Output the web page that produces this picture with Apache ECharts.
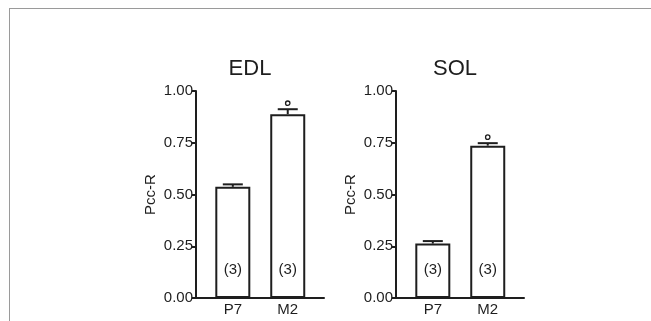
<!DOCTYPE html>
<html>
<head>
<meta charset="utf-8">
<script src="https://cdn.jsdelivr.net/npm/echarts@6/dist/echarts.min.js"></script>
<style>
  html, body { margin: 0; padding: 0; background: #fff; }
  #frame {
    position: absolute; left: 9px; top: 8px; width: 642px; height: 313px;
    border-top: 1px solid #9a9a9a; border-left: 1px solid #9a9a9a;
    box-sizing: border-box;
  }
  #chart { position: absolute; left: 0; top: 0; width: 651px; height: 321px; }
</style>
</head>
<body>
<div id="frame"></div>
<div id="chart"></div>
<script>
var categories = ["P7", "M2"];
var edlMean = [0.537, 0.888];
var edlSem = [0.012, 0.024];
var solMean = [0.263, 0.736];
var solSem = [0.012, 0.012];
var nCounts = [3, 3];
var edlSig = [false, true];
var solSig = [false, true];

var ink = "#1e1e1e";
var fontFam = "Liberation Sans, Arial, sans-serif";

function xAxisFor(gi) {
  return {
    type: "value",
    gridIndex: gi,
    min: -0.67,
    max: 1.66,
    splitLine: { show: false },
    axisTick: { show: false },
    axisLine: { onZero: false, lineStyle: { color: ink, width: 2 } },
    axisLabel: {
      customValues: [0, 1],
      color: ink, fontSize: 15, fontFamily: fontFam, margin: 4,
      formatter: function (v) { return categories[Math.round(v)]; }
    }
  };
}

function yAxisFor(gi) {
  return {
    type: "value",
    gridIndex: gi,
    min: 0,
    max: 1,
    interval: 0.25,
    name: "Pcc-R",
    nameLocation: "middle",
    nameGap: 38,
    nameTextStyle: { color: ink, fontSize: 15, fontFamily: fontFam },
    splitLine: { show: false },
    axisLine: { show: true, onZero: false, lineStyle: { color: ink, width: 2 } },
    axisTick: { show: true, length: 4, lineStyle: { color: ink, width: 2 } },
    axisLabel: {
      color: ink, fontSize: 15, fontFamily: fontFam, margin: 3,
      formatter: function (v) { return v.toFixed(2); }
    }
  };
}

function barSeries(gi, means) {
  return {
    type: "bar",
    xAxisIndex: gi,
    yAxisIndex: gi,
    barWidth: 35,
    data: means.map(function (v, i) { return [i, v]; }),
    itemStyle: { color: "#ffffff", borderColor: ink, borderWidth: 2 },
    label: {
      show: true, position: "insideBottom", distance: 21,
      color: ink, fontSize: 15, fontFamily: fontFam,
      formatter: function (p) { return "(" + nCounts[p.dataIndex] + ")"; }
    },
    silent: true
  };
}

function errSeries(gi, means, sems, sig) {
  return {
    type: "custom",
    xAxisIndex: gi,
    yAxisIndex: gi,
    z: 5,
    data: means.map(function (v, i) { return [i, v, sems[i], sig[i] ? 1 : 0]; }),
    renderItem: function (params, api) {
      var i = api.value(0), m = api.value(1), s = api.value(2);
      var base = api.coord([i, m]);
      var top = api.coord([i, m + s]);
      var half = 10;
      var kids = [
        { type: "line", shape: { x1: base[0], y1: base[1], x2: top[0], y2: top[1] },
          style: { stroke: ink, lineWidth: 2 } },
        { type: "line", shape: { x1: top[0] - half, y1: top[1], x2: top[0] + half, y2: top[1] },
          style: { stroke: ink, lineWidth: 2 } }
      ];
      if (api.value(3)) {
        kids.push({ type: "circle", shape: { cx: top[0], cy: top[1] - 6, r: 2.2 },
          style: { fill: "#fff", stroke: ink, lineWidth: 1.3 } });
      }
      return { type: "group", children: kids };
    },
    silent: true
  };
}

var chart = echarts.init(document.getElementById("chart"));
chart.setOption({
  animation: false,
  backgroundColor: "transparent",
  title: [
    { text: "EDL", left: 245, top: 53, textAlign: "center",
      textStyle: { color: ink, fontSize: 22, fontWeight: "normal", fontFamily: fontFam } },
    { text: "SOL", left: 450, top: 53, textAlign: "center",
      textStyle: { color: ink, fontSize: 22, fontWeight: "normal", fontFamily: fontFam } }
  ],
  grid: [
    { left: 196, top: 91, width: 128, height: 207 },
    { left: 396, top: 91, width: 128, height: 207 }
  ],
  xAxis: [xAxisFor(0), xAxisFor(1)],
  yAxis: [yAxisFor(0), yAxisFor(1)],
  series: [
    barSeries(0, edlMean),
    errSeries(0, edlMean, edlSem, edlSig),
    barSeries(1, solMean),
    errSeries(1, solMean, solSem, solSig)
  ]
});
</script>
</body>
</html>
